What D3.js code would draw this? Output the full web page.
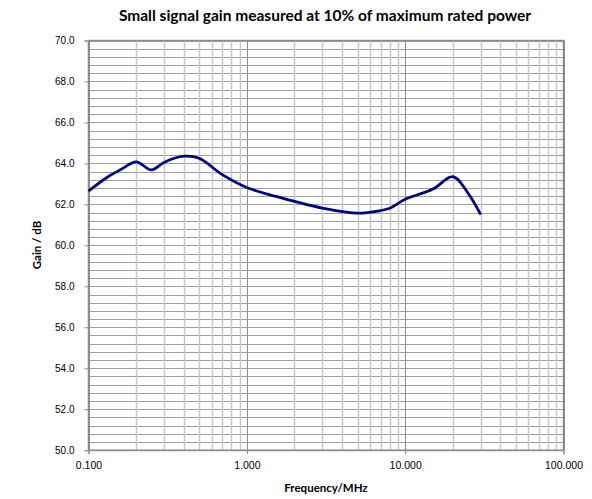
<!DOCTYPE html>
<html>
<head>
<meta charset="utf-8">
<script src="https://cdn.jsdelivr.net/npm/d3@7"></script>
<style>
  body { margin: 0; background: #fff; }
  text { font-family: "Liberation Sans", Arial, sans-serif; }
</style>
</head>
<body>
<div id="container"></div>
<script>
// frequency (MHz) and gain (dB)
const freqs = [0.1, 0.13, 0.16, 0.2, 0.25, 0.3, 0.4, 0.5, 0.7, 1.0, 1.5, 2.0, 3.0, 5.0, 7.0, 8.0, 10, 15, 20, 25, 30]
const gains = [62.65, 63.3, 63.7, 64.08, 63.68, 64.05, 64.35, 64.25, 63.45, 62.82, 62.4, 62.15, 61.82, 61.57, 61.7, 61.81, 62.25, 62.75, 63.35, 62.54, 61.5]

const xTicks = [0.1, 1, 10, 100]
const yTicks = [50, 52, 54, 56, 58, 60, 62, 64, 66, 68, 70]

const width = 592
const height = 499
const margin = {top: 40.5, right: 28.5, bottom: 48.5, left: 88.5}

const svg = d3.select("#container").append("svg")
    .attr("width", width)
    .attr("height", height)

const x = d3.scaleLog()
    .domain([0.1, 100])
    .range([margin.left, width - margin.right])

const y = d3.scaleLinear()
    .domain([50, 70])
    .range([height - margin.bottom - 0.3, margin.top])

// horizontal grid, every 0.4 dB
const hLines = d3.range(50, 70.01, 0.4)
svg.append("g")
    .selectAll("line")
    .data(hLines)
    .join("line")
    .attr("x1", margin.left)
    .attr("x2", width - margin.right)
    .attr("y1", d => Math.round(y(d)) + 0.5)
    .attr("y2", d => Math.round(y(d)) + 0.5)
    .attr("stroke", "#9e9e9e")
    .attr("stroke-width", 1)

// vertical minor grid
const minor = []
for (let dec of [0.1, 1, 10]) {
    for (let k = 2; k <= 9; k++) minor.push(dec * k)
}
svg.append("g")
    .selectAll("line")
    .data(minor)
    .join("line")
    .attr("x1", d => Math.round(x(d)) + 0.5)
    .attr("x2", d => Math.round(x(d)) + 0.5)
    .attr("y1", y(50))
    .attr("y2", y(70))
    .attr("stroke", "#c8c8c8")
    .attr("stroke-width", 1.5)

// vertical major grid
svg.append("g")
    .selectAll("line")
    .data(xTicks)
    .join("line")
    .attr("x1", d => Math.round(x(d)) + 0.5)
    .attr("x2", d => Math.round(x(d)) + 0.5)
    .attr("y1", y(50))
    .attr("y2", y(70))
    .attr("stroke", "#8c8c8c")
    .attr("stroke-width", 1)

// plot border
svg.append("rect")
    .attr("x", x(0.1))
    .attr("y", y(70))
    .attr("width", x(100) - x(0.1))
    .attr("height", y(50) - y(70))
    .attr("fill", "none")
    .attr("stroke", "#8c8c8c")
    .attr("stroke-width", 1.5)

// axes
const yAxis = d3.axisLeft(y)
    .tickValues(yTicks)
    .tickFormat(d3.format(".1f"))
    .tickSize(4)
    .tickPadding(10)

svg.append("g")
    .attr("transform", `translate(${margin.left},0)`)
    .call(yAxis)
    .call(g => g.select(".domain").attr("stroke", "#8c8c8c"))
    .call(g => g.selectAll(".tick line").attr("stroke", "#8c8c8c"))
    .call(g => g.selectAll(".tick text").attr("font-size", "10px").attr("fill", "#000").style("font-family", "Liberation Sans"))

const xAxis = d3.axisBottom(x)
    .tickValues(xTicks)
    .tickFormat(d3.format(".3f"))
    .tickSize(4)
    .tickPadding(7)

svg.append("g")
    .attr("transform", `translate(0,${y(50)})`)
    .call(xAxis)
    .call(g => g.select(".domain").attr("stroke", "#8c8c8c"))
    .call(g => g.selectAll(".tick line").attr("stroke", "#8c8c8c"))
    .call(g => g.selectAll(".tick text").attr("font-size", "10.5px").attr("fill", "#000").style("font-family", "Liberation Sans"))

// data line
const pts = freqs.map((f, i) => [f, gains[i]])
const line = d3.line()
    .x(d => x(d[0]))
    .y(d => y(d[1]))
    .curve(d3.curveCatmullRom.alpha(0.5))

svg.append("path")
    .datum(pts)
    .attr("d", line)
    .attr("fill", "none")
    .attr("stroke", "#000080")
    .attr("stroke-width", 2.75)
    .attr("stroke-linejoin", "round")

// titles
svg.append("text")
    .attr("x", 325)
    .attr("y", 21)
    .attr("text-anchor", "middle")
    .attr("font-size", "15.5px")
    .attr("font-weight", "bold")
    .style("font-family", "Lato")
    .text("Small signal gain measured at 10% of maximum rated power")

svg.append("text")
    .attr("x", 326)
    .attr("y", 492)
    .attr("text-anchor", "middle")
    .attr("font-size", "11.5px")
    .attr("font-weight", "bold")
    .style("font-family", "Lato")
    .text("Frequency/MHz")

svg.append("text")
    .attr("transform", `translate(41,245) rotate(-90)`)
    .attr("text-anchor", "middle")
    .attr("font-size", "11.5px")
    .attr("font-weight", "bold")
    .style("font-family", "Lato")
    .text("Gain / dB")
</script>
</body>
</html>
